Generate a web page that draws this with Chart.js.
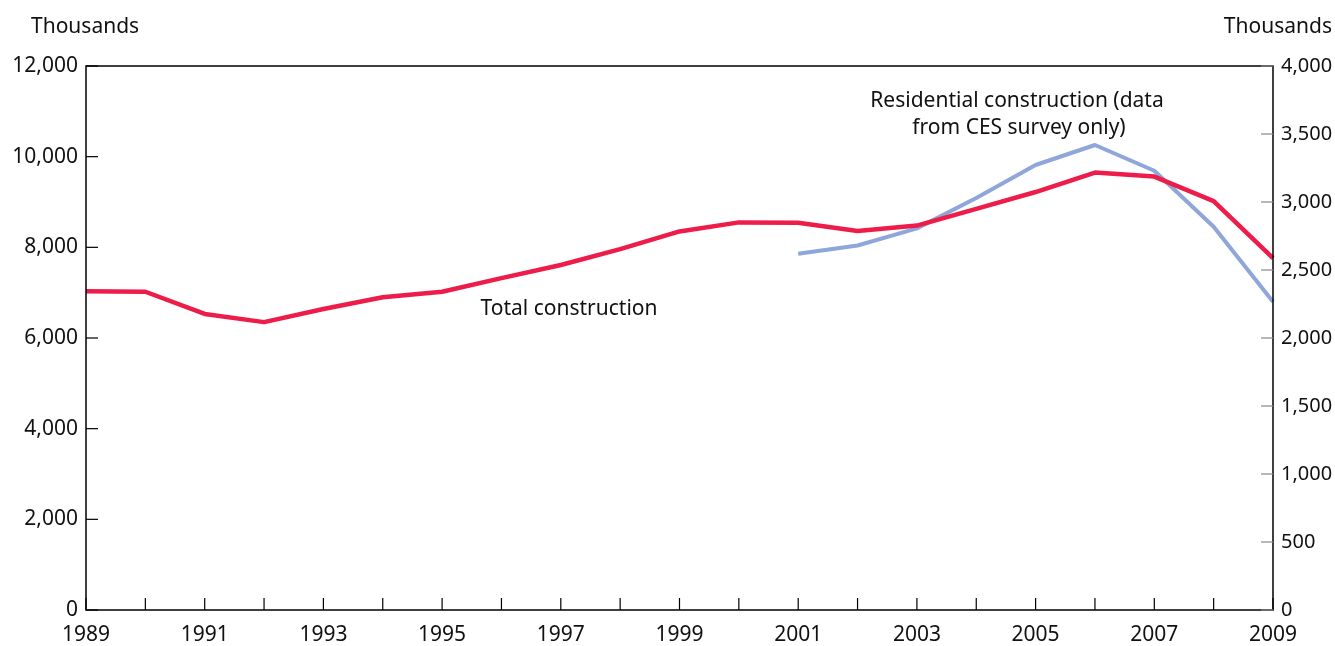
<!DOCTYPE html>
<html>
<head>
<meta charset="utf-8">
<script src="https://cdn.jsdelivr.net/npm/chart.js@4/dist/chart.umd.min.js"></script>
<style>
  html, body { margin: 0; padding: 0; background: #fff; }
  #wrap { width: 1335px; height: 646px; position: relative; }
</style>
</head>
<body>
<div id="wrap"><canvas id="chart" width="1335" height="646"></canvas></div>
<script>
// Construction employment, thousands
const years = ['1989','1990','1991','1992','1993','1994','1995','1996','1997','1998','1999',
               '2000','2001','2002','2003','2004','2005','2006','2007','2008','2009'];
const totalConstruction = [7030, 7020, 6530, 6350, 6640, 6900, 7020, 7320, 7610, 7960, 8350,
                           8550, 8540, 8360, 8480, 8850, 9220, 9650, 9560, 9020, 7760];
// residential series only starts in 2001 (right axis)
const residential = [null, null, null, null, null, null, null, null, null, null, null,
                     null, 2620, 2680, 2806, 3030, 3272, 3419, 3230, 2818, 2267];
const leftTicks = [0, 2000, 4000, 6000, 8000, 10000, 12000];
const rightTicks = [0, 500, 1000, 1500, 2000, 2500, 3000, 3500, 4000];

const FONT = '"Noto Sans", "Open Sans", sans-serif';
const RED = '#ED1C4A';
const BLUE = '#8FA6DA';

// frame, inward tick marks and the text labels
const framePlugin = {
  id: 'frame',
  afterDraw(chart) {
    const { ctx, chartArea: a, scales } = chart;
    ctx.save();
    ctx.strokeStyle = '#000';
    ctx.lineWidth = 1.5;
    ctx.strokeRect(a.left, a.top, a.right - a.left, a.bottom - a.top);

    ctx.lineWidth = 1.2;
    leftTicks.forEach(v => {
      const y = scales.y.getPixelForValue(v);
      ctx.beginPath(); ctx.moveTo(a.left, y); ctx.lineTo(a.left + 12, y); ctx.stroke();
    });
    years.forEach((yr, i) => {
      const x = scales.x.getPixelForValue(i);
      ctx.beginPath(); ctx.moveTo(x, a.bottom); ctx.lineTo(x, a.bottom - 12); ctx.stroke();
    });
    ctx.strokeStyle = '#888';
    rightTicks.forEach(v => {
      const y = scales.y2.getPixelForValue(v);
      ctx.beginPath(); ctx.moveTo(a.right, y); ctx.lineTo(a.right - 12, y); ctx.stroke();
    });

    ctx.fillStyle = '#111';
    ctx.font = '21px ' + FONT;
    ctx.textBaseline = 'alphabetic';
    ctx.textAlign = 'left';
    ctx.fillText('Thousands', 31, 33);
    ctx.textAlign = 'right';
    ctx.fillText('Thousands', 1332, 33);
    ctx.textAlign = 'center';
    ctx.fillText('Residential construction (data', 1017, 107);
    ctx.fillText('from CES survey only)', 1019, 134);
    ctx.fillText('Total construction', 569, 315);
    ctx.restore();
  }
};

new Chart(document.getElementById('chart'), {
  type: 'line',
  data: {
    labels: years,
    datasets: [
      {
        label: 'Total construction',
        data: totalConstruction,
        yAxisID: 'y',
        borderColor: RED,
        borderWidth: 4.5,
        pointRadius: 0,
        tension: 0,
        borderJoinStyle: 'round'
      },
      {
        label: 'Residential construction',
        data: residential,
        yAxisID: 'y2',
        borderColor: BLUE,
        borderWidth: 4,
        pointRadius: 0,
        tension: 0,
        borderJoinStyle: 'round'
      }
    ]
  },
  options: {
    responsive: false,
    animation: false,
    layout: { padding: { top: 66, left: 0, right: 0, bottom: 0 } },
    plugins: { legend: { display: false }, tooltip: { enabled: false } },
    scales: {
      x: {
        type: 'category',
        offset: false,
        grid: { display: false, drawTicks: false },
        border: { display: false },
        ticks: {
          autoSkip: false,
          maxRotation: 0,
          padding: 12,
          color: '#111',
          font: { family: FONT, size: 21 },
          callback: (v, i) => (i % 2 === 0 ? years[i] : '')
        },
        afterFit: s => { s.height = 36; }
      },
      y: {
        position: 'left',
        min: 0, max: 12000,
        grid: { display: false, drawTicks: false },
        border: { display: false },
        ticks: {
          stepSize: 2000,
          padding: 8,
          color: '#111',
          font: { family: FONT, size: 21 },
          callback: v => v.toLocaleString('en-US')
        },
        afterFit: s => { s.width = 86; }
      },
      y2: {
        position: 'right',
        min: 0, max: 4000,
        grid: { display: false, drawTicks: false },
        border: { display: false },
        ticks: {
          stepSize: 500,
          padding: 8,
          color: '#111',
          font: { family: FONT, size: 20 },
          callback: v => v.toLocaleString('en-US')
        },
        afterFit: s => { s.width = 62; }
      }
    }
  },
  plugins: [framePlugin]
});
</script>
</body>
</html>
